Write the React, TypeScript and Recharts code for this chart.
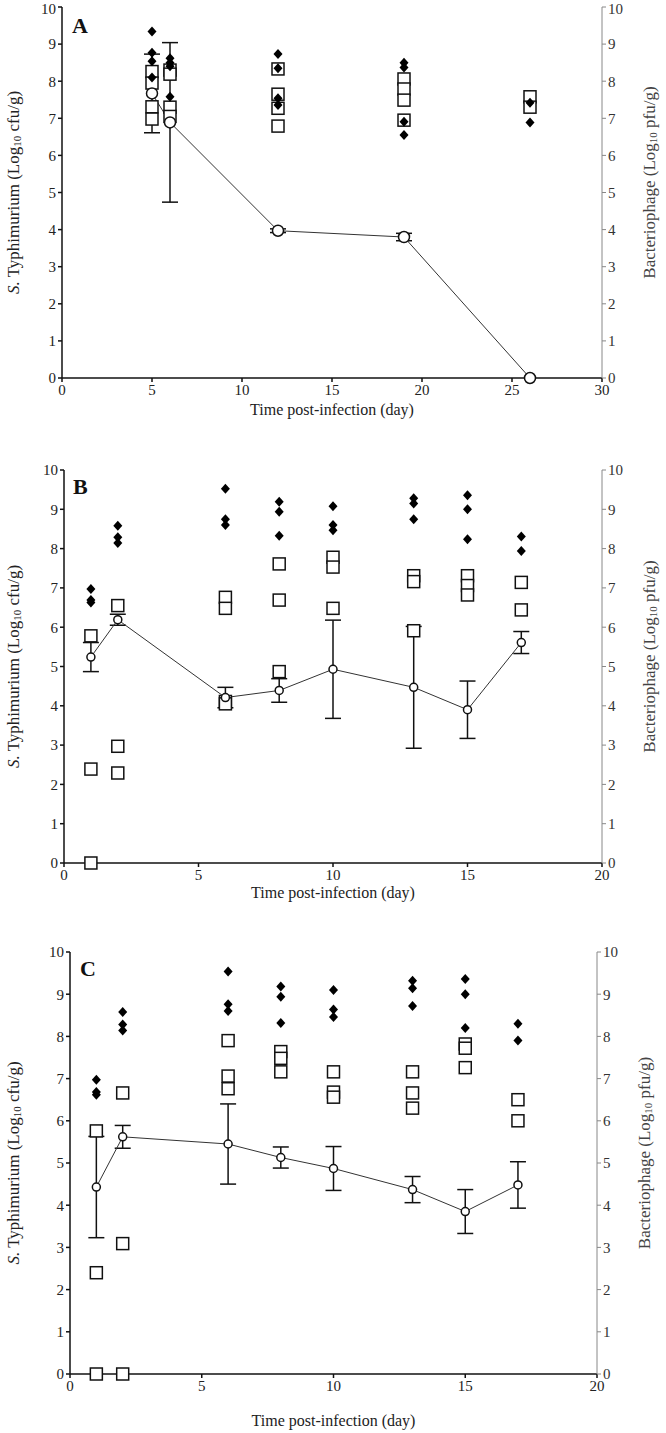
import { ComposedChart, Line, Scatter, XAxis, YAxis, ErrorBar } from 'recharts';

const FONT = '"Liberation Serif", "Times New Roman", serif';

// Panel A
const daysA = [5, 6, 12, 19, 26];
const meanA = [7.67, 6.89, 3.97, 3.8, 0];
const sdA = [1.06, 2.15, 0.05, 0.1, 0];
const diamondsA = [[9.34, 8.77, 8.54, 8.1], [8.62, 8.5, 8.4, 7.58], [8.73, 8.35, 7.54, 7.36], [8.5, 8.37, 6.91, 6.55], [7.42, 6.89]];
const squaresA = [[8.26, 7.95, 7.31, 6.98], [8.3, 8.19, 7.3, 7.05], [8.33, 7.65, 7.27, 6.79], [8.06, 7.79, 7.49, 6.95], [7.58, 7.3]];

// Panel B
const daysB = [1, 2, 6, 8, 10, 13, 15, 17];
const meanB = [5.24, 6.19, 4.21, 4.39, 4.93, 4.47, 3.9, 5.61];
const sdB = [0.37, 0.14, 0.26, 0.3, 1.25, 1.55, 0.73, 0.28];
const diamondsB = [[6.97, 6.69, 6.63], [8.58, 8.29, 8.14], [9.52, 8.75, 8.6], [9.19, 8.94, 8.33], [9.08, 8.6, 8.47], [9.28, 9.15, 8.75], [9.36, 9.0, 8.24], [8.31, 7.94]];
const squaresB = [[5.78, 2.39, 0], [6.55, 2.97, 2.29], [6.76, 6.48, 4.11, 4.05], [7.61, 6.69, 4.87], [7.78, 7.53, 6.48], [7.31, 7.16, 5.91], [7.31, 7.06, 6.82], [7.14, 6.44]];

// Panel C
const daysC = [1, 2, 6, 8, 10, 13, 15, 17];
const meanC = [4.43, 5.62, 5.45, 5.13, 4.87, 4.37, 3.85, 4.48];
const sdC = [1.2, 0.27, 0.95, 0.25, 0.52, 0.31, 0.52, 0.55];
const diamondsC = [[6.97, 6.68, 6.62], [8.58, 8.28, 8.14], [9.54, 8.76, 8.6], [9.18, 8.94, 8.32], [9.1, 8.64, 8.46], [9.32, 9.14, 8.72], [9.36, 9.0, 8.2], [8.3, 7.9]];
const squaresC = [[5.76, 2.4, 0], [6.66, 3.09, 0], [7.9, 7.06, 6.76], [7.64, 7.48, 7.16], [7.16, 6.68, 6.56], [7.16, 6.66, 6.3], [7.82, 7.72, 7.26], [6.5, 6.0]];

const yTicks = [0, 1, 2, 3, 4, 5, 6, 7, 8, 9, 10];
const xTicksA = [0, 5, 10, 15, 20, 25, 30];
const xTicksBC = [0, 5, 10, 15, 20];

const flatten = (days: number[], vals: number[][]) =>
  days.flatMap((d, i) => vals[i].map((v) => ({ x: d, y: v })));

const Diamond = (p: any) => (
  <polygon
    points={`${p.cx},${p.cy - 5} ${p.cx + 4.5},${p.cy} ${p.cx},${p.cy + 5} ${p.cx - 4.5},${p.cy}`}
    fill="#000"
  />
);

const Square = (p: any) => (
  <rect x={p.cx - 6} y={p.cy - 6} width={12} height={12} fill="#fff" stroke="#111" strokeWidth={1.5} />
);

const LeftTitle = (props: any) => {
  const vb = props.viewBox;
  const cx = vb.x + 13;
  const cy = vb.y + vb.height / 2;
  return (
    <text x={cx} y={cy} transform={`rotate(-90, ${cx}, ${cy})`} textAnchor="middle" dominantBaseline="central"
      fontFamily={FONT} fontSize={17} fill="#222">
      <tspan fontStyle="italic">S.</tspan>
      <tspan> Typhimurium (Log</tspan>
      <tspan dy={4} fontSize={11}>10</tspan>
      <tspan dy={-4}> cfu/g)</tspan>
    </text>
  );
};

const RightTitle = (props: any) => {
  const vb = props.viewBox;
  const cx = vb.x + 47;
  const cy = vb.y + vb.height / 2 - 10;
  return (
    <text x={cx} y={cy} transform={`rotate(-90, ${cx}, ${cy})`} textAnchor="middle" dominantBaseline="central"
      fontFamily={FONT} fontSize={17} fill="#444">
      <tspan>Bacteriophage (Log</tspan>
      <tspan dy={4} fontSize={11}>10</tspan>
      <tspan dy={-4}> pfu/g)</tspan>
    </text>
  );
};

type PanelProps = {
  letter: string;
  top: number;
  height: number;
  marginTop: number;
  leftW: number;
  rightW: number;
  xAxisH: number;
  xMax: number;
  xTicks: number[];
  titleDy: number;
  days: number[];
  mean: number[];
  sd: number[];
  diamonds: number[][];
  squares: number[][];
  r: number;
  letterX: number;
  letterY: number;
};

function Panel(p: PanelProps) {
  const lineData = p.days.map((d, i) => ({ x: d, y: p.mean[i], sd: p.sd[i] }));
  const XTitle = (props: any) => {
    const vb = props.viewBox;
    return (
      <text x={vb.x + vb.width / 2} y={vb.y + p.titleDy} textAnchor="middle" fontFamily={FONT} fontSize={16} fill="#222">
        Time post-infection (day)
      </text>
    );
  };
  return (
    <div style={{ position: 'absolute', left: 0, top: p.top }}>
      <ComposedChart width={666} height={p.height} margin={{ top: p.marginTop, right: 0, bottom: 0, left: 0 }}>
        <XAxis
          type="number"
          dataKey="x"
          domain={[0, p.xMax]}
          ticks={p.xTicks}
          height={p.xAxisH}
          stroke="#111"
          strokeWidth={1.5}
          tickSize={4}
          tick={{ fontSize: 15, fill: '#222', fontFamily: FONT }}
          label={{ content: XTitle }}
        />
        <YAxis
          yAxisId="left"
          type="number"
          domain={[0, 10]}
          ticks={yTicks}
          width={p.leftW}
          stroke="#111"
          strokeWidth={1.5}
          tickSize={4}
          tick={{ fontSize: 15, fill: '#222', fontFamily: FONT }}
          label={{ content: LeftTitle }}
        />
        <YAxis
          yAxisId="right"
          orientation="right"
          type="number"
          domain={[0, 10]}
          ticks={yTicks}
          width={p.rightW}
          stroke="#888"
          tickSize={4}
          tick={{ fontSize: 15, fill: '#333', fontFamily: FONT }}
          label={{ content: RightTitle }}
        />
        <Scatter yAxisId="right" data={flatten(p.days, p.squares)} dataKey="y" shape={Square} isAnimationActive={false} />
        <Scatter yAxisId="left" data={flatten(p.days, p.diamonds)} dataKey="y" shape={Diamond} isAnimationActive={false} />
        <Line
          yAxisId="left"
          data={lineData}
          dataKey="y"
          type="linear"
          stroke="#333"
          strokeWidth={1}
          isAnimationActive={false}
          dot={(d: any) => (
            <circle key={d.index} cx={d.cx} cy={d.cy} r={p.r} fill="#fff" stroke="#111" strokeWidth={1.5} />
          )}
        >
          <ErrorBar dataKey="sd" direction="y" width={8} stroke="#111" strokeWidth={1.5} />
        </Line>
      </ComposedChart>
      <div style={{ position: 'absolute', left: p.letterX, top: p.letterY, fontFamily: FONT, fontWeight: 'bold', fontSize: 22, lineHeight: '22px', color: '#111' }}>
        {p.letter}
      </div>
    </div>
  );
}

export default function App() {
  return (
    <div style={{ position: 'absolute', left: 0, top: 0, width: 666, height: 1433, background: '#fff' }}>
      <Panel letter="A" top={0} height={425} marginTop={7} leftW={62} rightW={64} xAxisH={47} xMax={30} xTicks={xTicksA}
        titleDy={37} days={daysA} mean={meanA} sd={sdA} diamonds={diamondsA} squares={squaresA} r={5.5} letterX={72} letterY={15} />
      <Panel letter="B" top={440} height={470} marginTop={30} leftW={64} rightW={64} xAxisH={47} xMax={20} xTicks={xTicksBC}
        titleDy={35} days={daysB} mean={meanB} sd={sdB} diamonds={diamondsB} squares={squaresB} r={4} letterX={73} letterY={476 - 440} />
      <Panel letter="C" top={920} height={513} marginTop={32} leftW={70} rightW={69} xAxisH={59} xMax={20} xTicks={xTicksBC}
        titleDy={52} days={daysC} mean={meanC} sd={sdC} diamonds={diamondsC} squares={squaresC} r={4} letterX={80} letterY={958 - 920} />
    </div>
  );
}
